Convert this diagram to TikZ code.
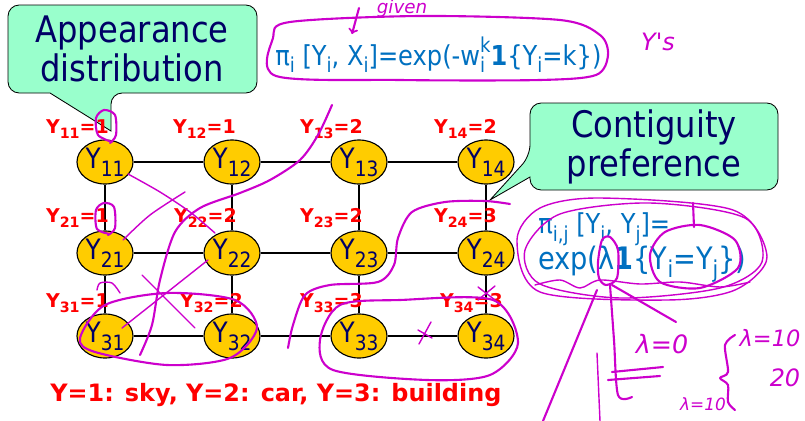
\documentclass[tikz,border=0pt]{standalone}
\usepackage{fontspec}
\setmainfont{DejaVu Sans}[FakeStretch=0.88]
\newfontfamily\wideface{DejaVu Sans}
\usetikzlibrary{shapes.geometric}
\definecolor{mint}{RGB}{153,255,204}
\definecolor{navy}{RGB}{0,0,102}
\definecolor{gold}{RGB}{255,204,0}
\definecolor{eqblue}{RGB}{0,112,192}
\definecolor{inkmag}{RGB}{204,0,204}
\newcommand\lowr[1]{\raisebox{-0.28em}{\scalebox{0.75}{#1}}}
\newcommand\upr[1]{\raisebox{0.45em}{\scalebox{0.75}{#1}}}

\begin{document}
\begin{tikzpicture}[x=0.025cm, y=-0.025cm,
  var/.style={draw, line width=0.8pt, fill=gold, ellipse, minimum width=1.4cm, minimum height=1.1cm, inner sep=0pt, text=navy, font=\fontsize{20}{20}\selectfont},
  lab/.style={text=red, anchor=east, inner sep=0pt, font=\wideface\bfseries\fontsize{13.5}{13.5}\selectfont},
  link/.style={line width=1.2pt},
  tip/.style={draw, line width=0.6pt, fill=mint, rounded corners=8pt},
  calltext/.style={text=navy, align=center, inner sep=0pt, font=\fontsize{26}{27.5}\selectfont},
  eq/.style={text=eqblue, anchor=west, inner sep=0pt, font=\fontsize{19.5}{19.5}\selectfont},
  ink/.style={draw=inkmag, line width=1.5pt, line cap=round, line join=round},
  hand/.style={text=inkmag, inner sep=0pt, font=\wideface\itshape\fontsize{15}{15}\selectfont}]
  \useasboundingbox (0,0) rectangle (805,421);

  \draw[tip] (50,93) -- (8,93) -- (8,5) -- (257,5) -- (257,93) -- (111,93) [sharp corners] -- (111,131) -- cycle;
  \node[calltext] (appear) at (132,49) {Appearance\\distribution};
  \draw[tip] (530,177) -- (530,190) -- (778,190) -- (778,103) -- (530,103) -- (530,156) [sharp corners] -- (490,200) -- cycle;
  \node[calltext] (contig) at (654,147) {Contiguity\\preference};

  \node[eq] (pia) at (275,55) {π\lowr{i} [Y\lowr{i}, X\lowr{i}]=exp(-w\rlap{\lowr{i}}\upr{k}\textbf{1}\{Y\lowr{i}=k\})};
  \node[eq] (pib) at (538,229) {π\lowr{i,j} [Y\lowr{i}, Y\lowr{j}]=};
  \node[eq, font=\fontsize{22}{22}\selectfont] (pic) at (538,264) {exp(λ\textbf{1}\{Y\lowr{i}=Y\lowr{j}\})};

  \node[var] (y11) at (105,162) {Y\lowr{11}};
  \node[var] (y12) at (232,162) {Y\lowr{12}};
  \node[var] (y13) at (359,162) {Y\lowr{13}};
  \node[var] (y14) at (486,162) {Y\lowr{14}};
  \node[var] (y21) at (105,253) {Y\lowr{21}};
  \node[var] (y22) at (232,253) {Y\lowr{22}};
  \node[var] (y23) at (359,253) {Y\lowr{23}};
  \node[var] (y24) at (486,253) {Y\lowr{24}};
  \node[var] (y31) at (105,336) {Y\lowr{31}};
  \node[var] (y32) at (232,336) {Y\lowr{32}};
  \node[var] (y33) at (359,336) {Y\lowr{33}};
  \node[var] (y34) at (486,336) {Y\lowr{34}};
  \draw[link] (y11) -- (y12);
  \draw[link] (y12) -- (y13);
  \draw[link] (y13) -- (y14);
  \draw[link] (y21) -- (y22);
  \draw[link] (y22) -- (y23);
  \draw[link] (y23) -- (y24);
  \draw[link] (y31) -- (y32);
  \draw[link] (y32) -- (y33);
  \draw[link] (y33) -- (y34);
  \draw[link] (y11) -- (y21);
  \draw[link] (y21) -- (y31);
  \draw[link] (y12) -- (y22);
  \draw[link] (y22) -- (y32);
  \draw[link] (y13) -- (y23);
  \draw[link] (y23) -- (y33);
  \draw[link] (y14) -- (y24);
  \draw[link] (y24) -- (y34);

  \node[lab] (l11) at (109,129) {Y\lowr{11}=1};
  \node[lab] (l12) at (236,129) {Y\lowr{12}=1};
  \node[lab] (l13) at (363,129) {Y\lowr{13}=2};
  \node[lab] (l14) at (497,129) {Y\lowr{14}=2};
  \node[lab] (l21) at (109,218) {Y\lowr{21}=1};
  \node[lab] (l22) at (237,218) {Y\lowr{22}=2};
  \node[lab] (l23) at (363,218) {Y\lowr{23}=2};
  \node[lab] (l24) at (497,218) {Y\lowr{24}=3};
  \node[lab] (l31) at (109,303) {Y\lowr{31}=1};
  \node[lab] (l32) at (243,303) {Y\lowr{32}=2};
  \node[lab] (l33) at (363,303) {Y\lowr{33}=3};
  \node[lab] (l34) at (503,303) {Y\lowr{34}=3};
  \node[lab, anchor=west, font=\wideface\bfseries\fontsize{17}{17}\selectfont] (legend) at (50,395) {Y=1: sky, Y=2: car, Y=3: building};

  \node[hand, font=\wideface\itshape\fontsize{13}{13}\selectfont] (given) at (402,8) {given};
  \node[hand, font=\wideface\itshape\fontsize{17}{17}\selectfont] (ys) at (658,42) {Y's};
  \node[hand, font=\wideface\itshape\fontsize{18}{18}\selectfont] (lamzero) at (662,344) {λ=0};
  \node[hand, font=\wideface\itshape\fontsize{16}{16}\selectfont] (lamten) at (770,338) {λ=10};
  \node[hand, font=\wideface\itshape\fontsize{17}{17}\selectfont] (twenty) at (785,378) {20};
  \node[hand, font=\wideface\itshape\fontsize{12}{12}\selectfont] (lamlow) at (703,404) {λ=10};

  \draw[ink] plot[smooth cycle] coordinates {(276,76) (273,38) (290,22) (420,16) (560,20) (600,35) (608,55) (596,75) (540,80) (400,80)};
  \draw[ink, ->] (359,8) -- (352,34);
  \draw[ink] plot[smooth] coordinates {(112,142) (98,135) (96,118) (104,110) (115,115) (116,135) (110,143)};
  \draw[ink] plot[smooth] coordinates {(110,234) (97,229) (96,210) (104,203) (114,207) (115,228) (108,235)};
  \draw[ink, line width=1pt] plot[smooth] coordinates {(128,174) (160,192) (190,212) (215,233)};
  \draw[ink, line width=1pt] plot[smooth] coordinates {(123,240) (150,215) (185,192)};
  \draw[ink] plot[smooth] coordinates {(332,105) (318,135) (300,160) (270,180) (240,193) (200,208) (175,232) (160,280) (152,325) (140,355)};
  \draw[ink, line width=1pt] (122,328) -- (208,260);
  \draw[ink, line width=1pt] (142,275) -- (195,328);
  \draw[ink] plot[smooth cycle] coordinates {(80,338) (105,305) (167,293) (235,300) (257,328) (230,358) (167,365) (95,352)};
  \draw[ink, line width=1pt] plot[smooth] coordinates {(97,290) (100,283) (112,283) (120,293)};
  \draw[ink] plot[smooth] coordinates {(288,348) (293,325) (305,295) (330,285) (378,282) (394,265) (398,238) (412,212) (445,202) (485,201) (510,204)};
  \draw[ink] plot[smooth cycle] coordinates {(320,340) (340,305) (400,300) (493,300) (518,343) (490,375) (427,380) (333,370)};
  \draw[ink, line width=1pt] (419,344) -- (431,322);
  \draw[ink, line width=1pt] (418,330) -- (432,338);
  \draw[ink, line width=1pt] (478,300) -- (495,286);
  \draw[ink, line width=1pt] (478,287) -- (495,300);
  \draw[ink, line width=1pt] plot[smooth cycle] coordinates {(517,240) (540,208) (600,198) (733,210) (767,257) (735,290) (667,300) (540,292)};
  \draw[ink, line width=1pt] plot[smooth cycle] coordinates {(525,250) (560,214) (650,203) (745,218) (762,262) (720,288) (620,298) (540,284)};
  \draw[ink] (693,203) -- (694,227);
  \draw[ink] plot[smooth cycle] coordinates {(650,255) (665,232) (700,225) (735,240) (738,268) (700,288) (660,282)};
  \draw[ink] plot[smooth cycle] coordinates {(598,262) (602,240) (610,237) (618,250) (617,278) (606,285) (599,278)};
  \draw[ink, line width=1pt] plot[smooth] coordinates {(535,285) (560,280) (580,288) (600,280) (640,284) (680,282) (720,287) (750,282)};
  \draw[ink] plot[smooth] coordinates {(610,285) (614,340) (618,395) (632,397)};
  \draw[ink] (612,285) -- (676,322);
  \draw[ink] (543,421) -- (597,290);
  \draw[ink, line width=1pt] (597,353) -- (600,421);
  \draw[ink] (612,372) -- (663,367);
  \draw[ink] (608,380) -- (660,376);
  \draw[ink] plot[smooth] coordinates {(735,335) (725,345) (728,372) (720,378) (728,385) (728,402) (735,410)};
\end{tikzpicture}
\end{document}
